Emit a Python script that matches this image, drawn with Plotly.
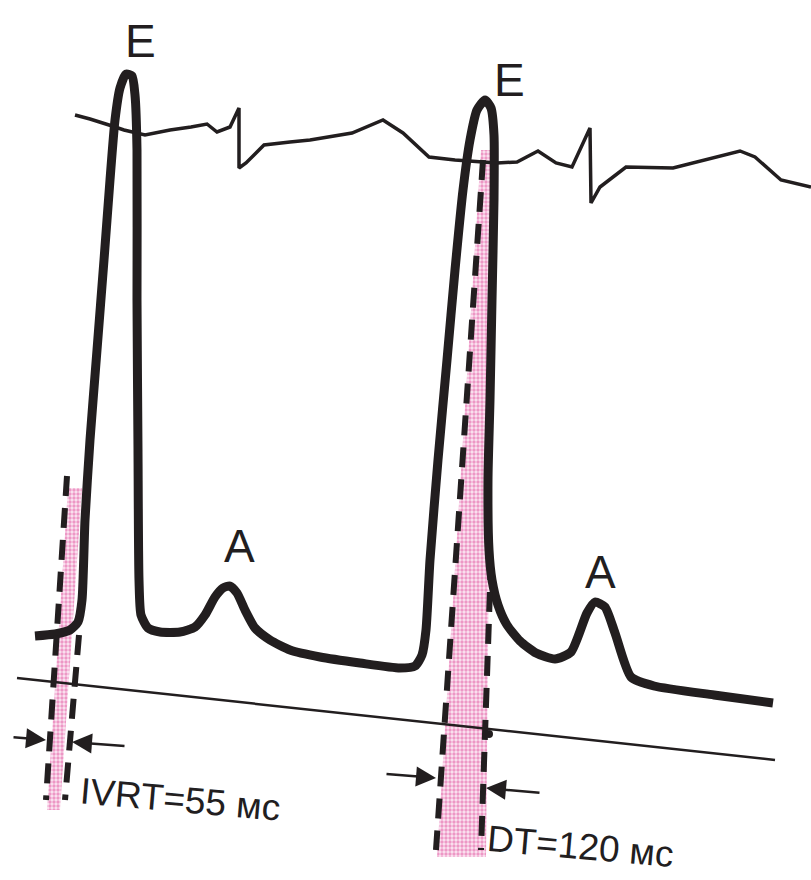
import plotly.graph_objects as go

# ---- Data (diagram units: x = time axis, y = screen depth, top = 0) ----
doppler_x = [35, 55, 70, 78, 82, 85, 90, 97, 104, 110, 115, 120, 126, 132, 135, 137, 137, 138, 139, 141,
             148, 160, 180, 195, 205, 215, 223, 230, 237, 245, 255, 270, 290, 320, 360, 400, 415, 422,
             426, 430, 438, 447, 455, 463, 470, 477, 485, 491, 494, 494, 492, 490, 488, 489, 492, 498,
             507, 520, 536, 555, 571, 587, 595, 605, 615, 631, 654, 714, 773]
doppler_y = [636, 634, 630, 622, 600, 520, 440, 350, 260, 180, 120, 88, 74, 76, 95, 150, 300, 450, 580, 615,
             628, 632, 632, 627, 615, 597, 588, 586, 593, 610, 628, 640, 650, 657, 663, 668, 666, 655,
             630, 560, 460, 360, 270, 190, 140, 110, 100, 108, 135, 200, 300, 400, 480, 550, 580, 605,
             625, 641, 653, 659, 652, 613, 602, 607, 633, 677, 686, 695, 703]

ecg_x = [75, 90, 109, 124, 145, 170, 191, 207, 217, 230, 239, 239, 246, 264, 290, 310, 352, 383, 403,
         429, 455, 497, 517, 538, 556, 572, 590, 591, 600, 626, 673, 740, 755, 781, 811]
ecg_y = [115, 119, 125, 130, 135, 130, 127, 124, 132, 127, 108, 168, 163, 145, 142, 140, 133, 120, 133,
         157, 160, 163, 162, 151, 163, 167, 128, 203, 187, 167, 168, 151, 157, 180, 187]

zero_x = [17, 775]
zero_y = [678, 760]

ivrt_band_x = [68, 82, 60, 47]
ivrt_band_y = [488, 488, 810, 810]
dt_band_x = [481, 493, 486, 437]
dt_band_y = [150, 150, 857, 857]

ivrt_left_x, ivrt_left_y = [67, 46], [476, 800]
ivrt_right_x, ivrt_right_y = [79, 65], [635, 800]
dt_left_x, dt_left_y = [483, 436], [160, 850]
dt_right_x, dt_right_y = [491, 481], [560, 850]

wave_labels = ["E", "E", "A", "A"]
wave_label_x = [140, 509, 239, 600]
wave_label_y = [41, 80, 546, 572]

ivrt_text = "IVRT=55 мс"
dt_text = "DT=120 мс"

ink = "#221e1f"
pink_fg = "#e0489a"
pink_bg = "#f7c6e0"

fig = go.Figure()

def band(xs, ys):
    fig.add_trace(go.Scatter(
        x=xs, y=ys, mode="lines", fill="toself", line=dict(width=0),
        fillcolor=pink_bg,
        fillpattern=dict(shape=".", fgcolor=pink_fg, bgcolor="#fbe6f1", size=4, solidity=0.55),
        hoverinfo="skip", showlegend=False))

band(ivrt_band_x, ivrt_band_y)
band(dt_band_x, dt_band_y)

# ECG trace
fig.add_trace(go.Scatter(x=ecg_x, y=ecg_y, mode="lines",
                         line=dict(color=ink, width=3.5), showlegend=False))
# zero line
fig.add_trace(go.Scatter(x=zero_x, y=zero_y, mode="lines",
                         line=dict(color=ink, width=2.5), showlegend=False))
# Doppler envelope
fig.add_trace(go.Scatter(x=doppler_x, y=doppler_y, mode="lines",
                         line=dict(color=ink, width=9, shape="spline", smoothing=0.6),
                         showlegend=False))

for xs, ys in [(ivrt_left_x, ivrt_left_y), (ivrt_right_x, ivrt_right_y),
               (dt_left_x, dt_left_y), (dt_right_x, dt_right_y)]:
    fig.add_trace(go.Scatter(x=xs, y=ys, mode="lines",
                             line=dict(color=ink, width=6, dash="20px,12px"),
                             showlegend=False))

# small node where DT line meets zero line
fig.add_trace(go.Scatter(x=[489], y=[734], mode="markers",
                         marker=dict(color=ink, size=8), showlegend=False))

font_family = "Liberation Sans, Arial, sans-serif"

annotations = []
for t, x, y in zip(wave_labels, wave_label_x, wave_label_y):
    annotations.append(dict(x=x, y=y, text=t, showarrow=False, xref="x", yref="y",
                            font=dict(family=font_family, size=46, color=ink)))

annotations.append(dict(x=180, y=799, text=ivrt_text, showarrow=False, textangle=5,
                        font=dict(family=font_family, size=37, color=ink)))
annotations.append(dict(x=580, y=846, text=dt_text, showarrow=False, textangle=5,
                        font=dict(family=font_family, size=37, color=ink)))

# measurement arrows (tip, tail)
arrows = [((46, 740), (12, 737)), ((72, 742), (126, 746)),
          ((436, 778), (385, 774)), ((486, 788), (541, 793))]
for (tx, ty), (sx, sy) in arrows:
    annotations.append(dict(x=tx, y=ty, ax=sx, ay=sy, xref="x", yref="y", axref="x", ayref="y",
                            text="", showarrow=True, arrowhead=2, arrowsize=1.6,
                            arrowwidth=2.5, arrowcolor=ink))

fig.update_layout(
    width=811, height=880, margin=dict(l=0, r=0, t=0, b=0),
    paper_bgcolor="white", plot_bgcolor="white",
    xaxis=dict(range=[0, 811], visible=False, fixedrange=True),
    yaxis=dict(range=[880, 0], visible=False, fixedrange=True),
    annotations=annotations, showlegend=False,
)

fig.write_html("out.html")
